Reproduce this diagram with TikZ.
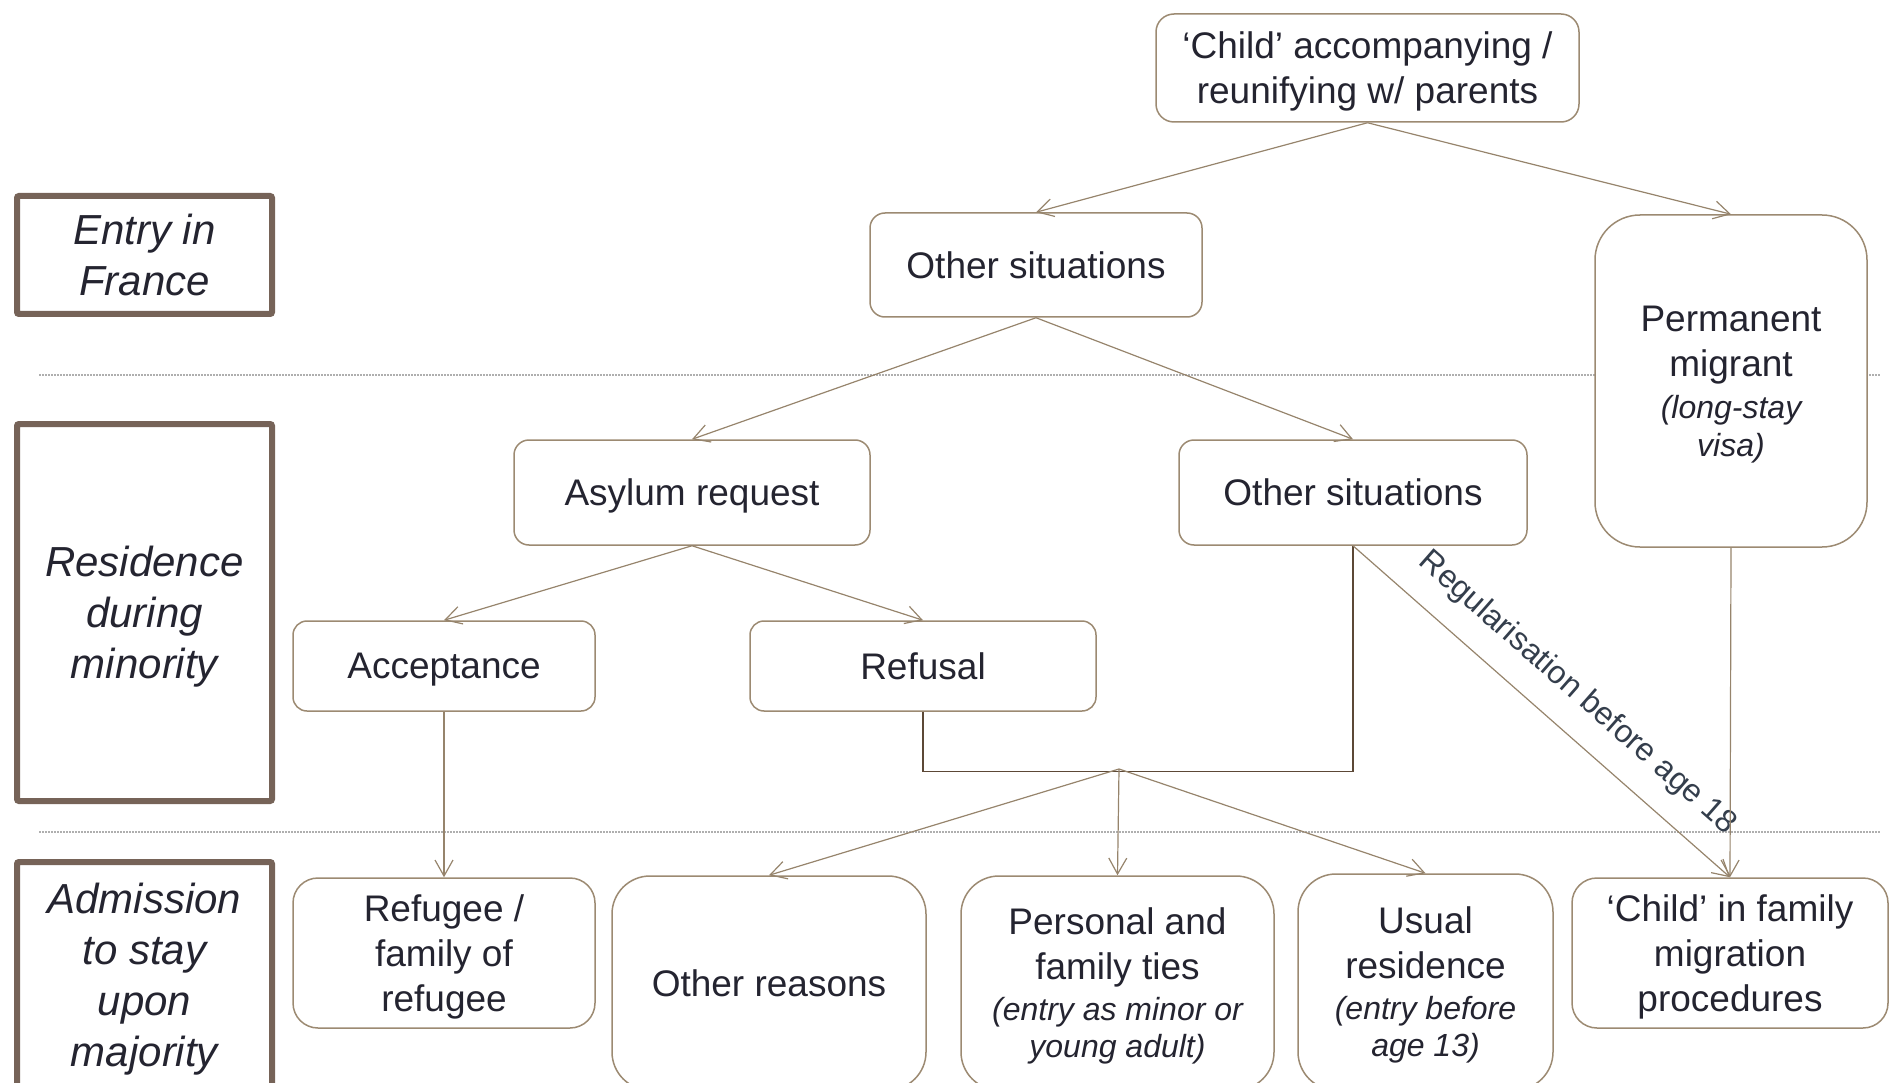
\documentclass[tikz,border=0pt]{standalone}
\usepackage{fontspec}
\setmainfont{Liberation Sans}
\usetikzlibrary{arrows.meta}
\definecolor{boxline}{RGB}{156,138,114}
\definecolor{connline}{RGB}{150,132,108}
\definecolor{elbowline}{RGB}{92,72,54}
\definecolor{stageline}{RGB}{118,99,88}
\definecolor{txt}{RGB}{36,36,48}
\definecolor{labeltxt}{RGB}{52,62,76}
\definecolor{sepline}{RGB}{175,175,175}
\newcommand\subf{\fontsize{32}{37}\selectfont\itshape}
\begin{document}
\begin{tikzpicture}[x=1pt,y=-1pt,
  box/.style={draw=boxline, line width=1.5pt, fill=white, rounded corners=#1,
    align=center, text=txt, font=\fontsize{37}{45}\selectfont, inner sep=0pt,
    text depth=0pt},
  box/.default=15pt,
  stage/.style={draw=stageline, line width=6pt, fill=white, rounded corners=2pt,
    align=center, text=txt, font=\fontsize{42}{51}\selectfont\itshape,
    inner sep=0pt, minimum width=255pt, text depth=0pt},
  conn/.style={draw=connline, line width=1.2pt},
  arr/.style={-{Straight Barb[length=16pt,width=18pt]}},
  elbow/.style={draw=elbowline, line width=1.4pt},
  sep/.style={draw=sepline, line width=1.5pt, dash pattern=on 1.5pt off 1.5pt}]

\useasboundingbox (0,0) rectangle (1890,1083);
\clip (0,0) rectangle (1890,1083);

% stage separators
\draw[sep] (39,375) -- (1880,375);
\draw[sep] (39,832) -- (1880,832);

% stage labels
\node[stage, minimum height=118pt] (entry) at (144.5,255) {Entry in\\France};
\node[stage, minimum height=377pt] (resid) at (144.5,612.5) {Residence\\during\\minority};
\node[stage, minimum height=226pt] (admis) at (144.5,975) {Admission\\to stay\\upon\\majority};

% flow boxes
\node[box=18pt, minimum width=423pt, minimum height=108pt] (top) at (1367.5,68)
  {‘Child’ accompanying /\\reunifying w/ parents};
\node[box, minimum width=332pt, minimum height=104pt] (os1) at (1036,265) {Other situations};
\node[box=45pt, minimum width=272pt, minimum height=332pt] (perm) at (1731,381)
  {Permanent\\migrant\\[-3pt]{\subf (long-stay}\\[-7pt]{\subf visa)}};
\node[box, minimum width=356pt, minimum height=105pt] (asy) at (692,492.5) {Asylum request};
\node[box, minimum width=348pt, minimum height=105pt] (os2) at (1353,492.5) {Other situations};
\node[box=14pt, minimum width=302pt, minimum height=90pt] (acc) at (444,666) {Acceptance};
\node[box=14pt, minimum width=346pt, minimum height=90pt] (ref) at (923,666) {Refusal};

\node[box=25pt, minimum width=302pt, minimum height=150pt] (refg) at (444,953)
  {Refugee /\\family of\\refugee};
\node[box=38pt, minimum width=314pt, minimum height=214pt] (oth) at (769,983) {Other reasons};
\node[box=38pt, minimum width=313pt, minimum height=214pt] (pers) at (1117.5,983)
  {Personal and\\family ties\\[-4pt]{\subf (entry as minor or}\\[-8pt]{\subf young adult)}};
\node[box=38pt, minimum width=255pt, minimum height=216pt] (usual) at (1425.5,982)
  {Usual\\residence\\[-4pt]{\subf (entry before}\\[-8pt]{\subf age 13)}};
\node[box=25pt, minimum width=316pt, minimum height=150pt] (child) at (1730,953)
  {‘Child’ in family\\migration\\procedures};

% connectors
\draw[conn,arr] (top.south) -- (os1.north);
\draw[conn,arr] (top.south) -- (perm.north);
\draw[conn,arr] (os1.south) -- (asy.north);
\draw[conn,arr] (os1.south) -- (os2.north);
\draw[conn,arr] (asy.south) -- (acc.north);
\draw[conn,arr] (asy.south) -- (ref.north);
\draw[conn,arr] (acc.south) -- (refg.north);

\draw[elbow] (ref.south) -- ++(0,60) -| (os2.south);
\coordinate (merge) at (1119,769);
\draw[conn,arr] (merge) -- (oth.north);
\draw[conn,arr] (merge) -- (pers.north);
\draw[conn,arr] (merge) -- (usual.north);

\draw[conn,arr] (os2.south) -- node[sloped, above=22pt, pos=0.53, inner sep=0pt,
    text=labeltxt, font=\fontsize{32}{37}\selectfont] {Regularisation before age 18} (child.north);
\draw[conn,arr] (perm.south) -- (child.north);
\end{tikzpicture}
\end{document}
